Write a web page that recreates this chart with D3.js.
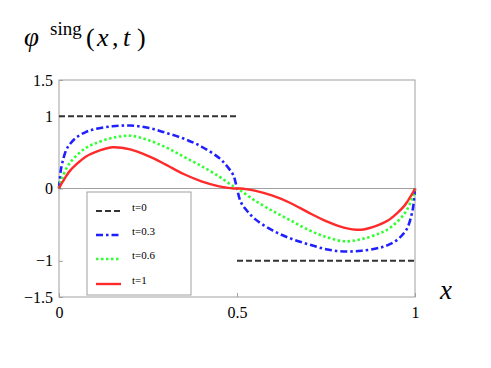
<!DOCTYPE html>
<html>
<head>
<meta charset="utf-8">
<script src="https://cdn.jsdelivr.net/npm/d3@7"></script>
<style>
  body { margin: 0; background: #fff; }
</style>
</head>
<body>
<div id="chart"></div>
<script>
// sample positions along x (0..1)
var xs = [0, 0.005, 0.01, 0.02, 0.03, 0.05, 0.075, 0.1, 0.15, 0.2, 0.25, 0.3, 0.35, 0.4, 0.45, 0.475, 0.49, 0.5,
  0.51, 0.525, 0.55, 0.6, 0.65, 0.7, 0.75, 0.8, 0.85, 0.9, 0.925, 0.95, 0.97, 0.98, 0.99, 0.995, 1]

// t = 0 : step, two pieces (null = gap)
var t0X = [0, 0.5, 0.5, 0.5, 1]
var t0Y = [1, 1, null, -1, -1]

var t03 = [0, 0.25, 0.37, 0.53, 0.61, 0.71, 0.78, 0.82, 0.86, 0.87, 0.84, 0.77, 0.69, 0.58, 0.42, 0.29, 0.18, 0,
  -0.18, -0.29, -0.42, -0.58, -0.69, -0.77, -0.84, -0.87, -0.86, -0.82, -0.78, -0.71, -0.61, -0.53, -0.37, -0.25, 0]
var t06 = [0, 0.1, 0.16, 0.27, 0.35, 0.46, 0.56, 0.62, 0.70, 0.73, 0.67, 0.57, 0.44, 0.31, 0.165, 0.08, 0.03, 0,
  -0.03, -0.08, -0.165, -0.31, -0.44, -0.57, -0.67, -0.73, -0.70, -0.62, -0.56, -0.46, -0.35, -0.27, -0.16, -0.1, 0]
var t1 = [0, 0.05, 0.09, 0.17, 0.24, 0.34, 0.44, 0.50, 0.57, 0.54, 0.45, 0.33, 0.2, 0.1, 0.03, 0.008, 0.001, 0,
  -0.001, -0.008, -0.03, -0.1, -0.2, -0.33, -0.45, -0.54, -0.57, -0.50, -0.44, -0.34, -0.24, -0.17, -0.09, -0.05, 0]

var legendLabels = ["t=0", "t=0.3", "t=0.6", "t=1"]
var yTicks = [-1.5, -1, 0, 1, 1.5]
var yTickLabels = ["\u22121.5", "\u22121", "0", "1", "1.5"]
var xTicks = [0, 0.5, 1]
var xTickLabels = ["0", "0.5", "1"]

const W = 491, H = 368
const SERIF = '"Liberation Serif"'
var margin = {top: 80, right: 76, bottom: 71, left: 59}
var width = W - margin.left - margin.right,
  height = H - margin.top - margin.bottom

var svg = d3.select("#chart").append("svg")
  .attr("width", W)
  .attr("height", H)

var g = svg.append("g")
  .attr("transform", "translate(" + margin.left + "," + margin.top + ")")

var xScale = d3.scaleLinear().domain([0, 1]).range([0, width])
var yScale = d3.scaleLinear().domain([-1.5, 1.5]).range([height, 0])

var frame = "#a0a0a0"

// frame
g.append("rect")
  .attr("x", 0).attr("y", 0)
  .attr("width", width).attr("height", height)
  .attr("fill", "none")
  .attr("stroke", frame)
  .attr("stroke-width", 1)

// zero line
g.append("line")
  .attr("x1", 0).attr("x2", width)
  .attr("y1", yScale(0)).attr("y2", yScale(0))
  .attr("stroke", frame)

var yAxis = d3.axisLeft(yScale)
  .tickValues(yTicks)
  .tickSize(-4)
  .tickPadding(6)
  .tickFormat(function(d, i) { return yTickLabels[i] })
var ya = g.append("g").call(yAxis)
  .attr("font-family", "Liberation Serif")
  .attr("font-size", 16)
ya.select(".domain").remove()
ya.selectAll("line").attr("stroke", frame)
ya.selectAll("text").attr("fill", "#000")

var xAxis = d3.axisBottom(xScale)
  .tickValues(xTicks)
  .tickSize(-4)
  .tickFormat(function(d, i) { return xTickLabels[i] })
var xa = g.append("g").attr("transform", "translate(0," + height + ")").call(xAxis)
  .attr("font-family", "Liberation Serif")
  .attr("font-size", 16)
xa.select(".domain").remove()
xa.selectAll("line").attr("stroke", frame)
xa.selectAll("text").attr("fill", "#000")
  .attr("y", 21).attr("dy", 0)

var line = d3.line()
  .defined(function(d) { return d[1] !== null })
  .curve(d3.curveCatmullRom.alpha(0.5))
  .x(function(d) { return xScale(d[0]) })
  .y(function(d) { return yScale(d[1]) })

var styles = [
  {color: "#333333", dash: "6,3", w: 2},
  {color: "#2020ff", dash: "7,3,2.5,3", w: 2.6},
  {color: "#30ff30", dash: "2.5,2.5", w: 2.6},
  {color: "#ff2a2a", dash: null, w: 2.4}
]
var series = [
  d3.zip(t0X, t0Y),
  d3.zip(xs, t03),
  d3.zip(xs, t06),
  d3.zip(xs, t1)
]

var plot = g.append("g")
series.forEach(function(s, i) {
  plot.append("path")
    .attr("d", line(s))
    .attr("fill", "none")
    .attr("stroke", styles[i].color)
    .attr("stroke-width", styles[i].w)
    .attr("stroke-dasharray", styles[i].dash)
})

// legend
var leg = svg.append("g").attr("transform", "translate(87,192)")
leg.append("rect")
  .attr("width", 104).attr("height", 103)
  .attr("fill", "#fff")
  .attr("stroke", frame)
var rowY = [19, 43, 67, 92]
legendLabels.forEach(function(lab, i) {
  leg.append("line")
    .attr("x1", 9).attr("x2", 34)
    .attr("y1", rowY[i]).attr("y2", rowY[i])
    .attr("stroke", styles[i].color)
    .attr("stroke-width", styles[i].w)
    .attr("stroke-dasharray", styles[i].dash)
  leg.append("text")
    .attr("x", 45).attr("y", rowY[i])
    .attr("font-size", 11)
    .style("font-family", SERIF)
    .text(lab)
})

// title  phi^sing(x,t)
function tpart(x, y, s, size, italic) {
  svg.append("text").attr("x", x).attr("y", y)
    .style("font-family", SERIF)
    .attr("font-size", size)
    .attr("font-style", italic ? "italic" : null)
    .text(s)
}
tpart(24, 46, "\u03c6", 27, true)
tpart(50, 35, "sing", 19, false)
tpart(86, 46, "(", 26, false)
tpart(97, 46, "x", 26, true)
tpart(112, 46, ",", 26, false)
tpart(123, 46, "t", 26, true)
tpart(137, 46, ")", 26, false)

// x label
svg.append("text")
  .attr("x", 440).attr("y", 299)
  .style("font-family", SERIF)
  .attr("font-size", 27)
  .attr("font-style", "italic")
  .text("x")
</script>
</body>
</html>
